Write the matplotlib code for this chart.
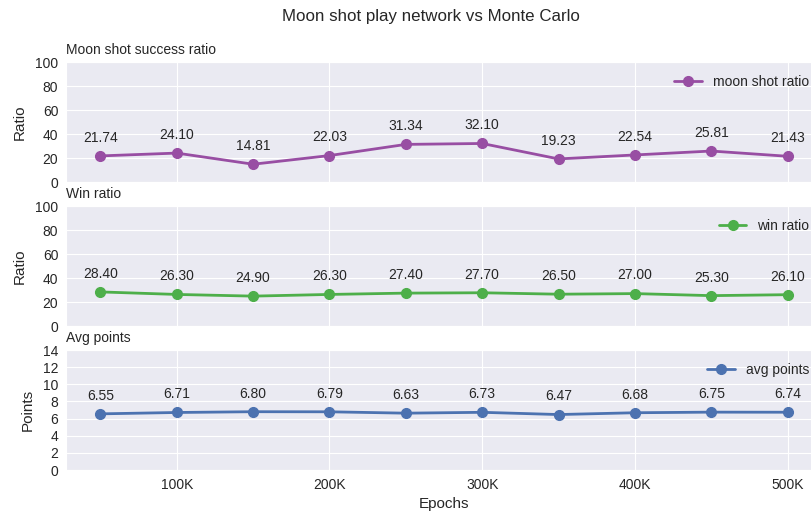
import matplotlib
matplotlib.use("Agg")
import matplotlib.pyplot as plt
import seaborn as sns
from matplotlib.ticker import FuncFormatter, MultipleLocator

sns.set_style("darkgrid")
plt.rcParams['font.family'] = ['Liberation Sans', 'DejaVu Sans']

epochs = [50000, 100000, 150000, 200000, 250000, 300000, 350000, 400000, 450000, 500000]
moon_shot = [21.74, 24.10, 14.81, 22.03, 31.34, 32.10, 19.23, 22.54, 25.81, 21.43]
win_ratio = [28.40, 26.30, 24.90, 26.30, 27.40, 27.70, 26.50, 27.00, 25.30, 26.10]
avg_points = [6.55, 6.71, 6.80, 6.79, 6.63, 6.73, 6.47, 6.68, 6.75, 6.74]

W, H = 811, 515
fig = plt.figure(figsize=(W / 100, H / 100), dpi=100)

def rect(left, top, right, bottom):
    return [left / W, 1 - bottom / H, (right - left) / W, (bottom - top) / H]

panels = [
    (moon_shot, "#984ea3", "moon shot ratio", "Moon shot success ratio", "Ratio", (0, 100), 20, (66, 62, 822, 182)),
    (win_ratio, "#4daf4a", "win ratio", "Win ratio", "Ratio", (0, 100), 20, (66, 206, 822, 326)),
    (avg_points, "#4c72b0", "avg points", "Avg points", "Points", (0, 14), 2, (66, 350, 822, 470)),
]

fmt = FuncFormatter(lambda v, p: f"{int(v / 1000)}K")
axes = []
for i, (vals, color, lab, title, ylab, ylim, step, r) in enumerate(panels):
    ax = fig.add_axes(rect(*r))
    ax.plot(epochs, vals, color=color, marker='o', markersize=7, linewidth=2, label=lab)
    for x, v in zip(epochs, vals):
        ax.annotate(f"{v:.2f}", (x, v), textcoords="offset points", xytext=(0, 8),
                    ha='center', va='bottom', fontsize=10, color='#262626')
    ax.set_ylim(*ylim)
    ax.yaxis.set_major_locator(MultipleLocator(step))
    ax.set_xlim(27500, 522500)
    ax.set_xticks([100000, 200000, 300000, 400000, 500000])
    ax.xaxis.set_major_formatter(fmt)
    ax.set_ylabel(ylab, fontsize=11, labelpad=6)
    ax.set_title(title, loc='left', fontsize=10, pad=6)
    ax.tick_params(axis='both', labelsize=10, pad=2)
    ax.legend(loc='upper right', frameon=False, fontsize=10, handlelength=2)
    if i < 2:
        ax.tick_params(axis='x', labelbottom=False)
    axes.append(ax)

axes[-1].set_xlabel("Epochs", fontsize=11, labelpad=4)
fig.suptitle("Moon shot play network vs Monte Carlo", fontsize=12.2,
             x=431 / W, y=1 - 16 / H, va='center')

fig.savefig("out.png", dpi=100)
